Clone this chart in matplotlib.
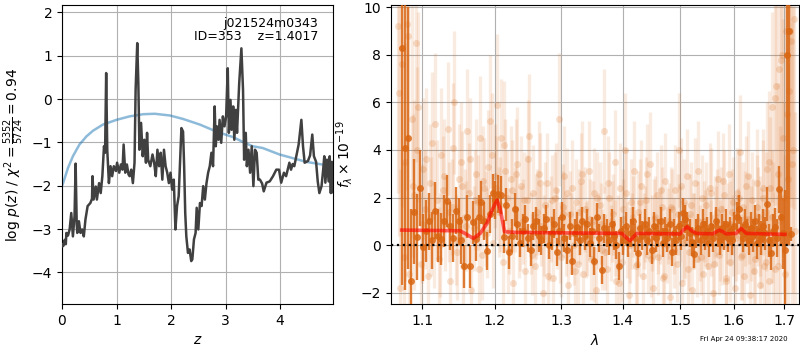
import numpy as np
import matplotlib
matplotlib.use("Agg")
import matplotlib.pyplot as plt
from matplotlib.ticker import FixedLocator, FormatStrFormatter, NullLocator

# ---------------- left panel: p(z) ----------------
z_grid = [0.00, 0.01, 0.03, 0.05, 0.07, 0.08, 0.11, 0.14, 0.17, 0.20, 0.23, 0.25, 0.27, 0.28, 0.31,
          0.34, 0.37, 0.40, 0.43, 0.47, 0.52, 0.55, 0.56, 0.58, 0.62, 0.64, 0.68, 0.71, 0.74, 0.77,
          0.79, 0.81, 0.83, 0.86, 0.89, 0.92, 0.95, 0.99, 1.01, 1.05, 1.08, 1.11, 1.13, 1.16, 1.19,
          1.22, 1.24, 1.27, 1.30, 1.33, 1.35, 1.38, 1.40, 1.42, 1.45, 1.48, 1.51, 1.54, 1.56, 1.58,
          1.62, 1.66, 1.69, 1.72, 1.75, 1.78, 1.81, 1.84, 1.87, 1.90, 1.93, 1.96, 1.99, 2.02, 2.05,
          2.08, 2.11, 2.14, 2.19, 2.22, 2.24, 2.26, 2.28, 2.31, 2.34, 2.37, 2.39, 2.42, 2.45, 2.47,
          2.50, 2.53, 2.56, 2.59, 2.62, 2.65, 2.68, 2.71, 2.74, 2.77, 2.80, 2.82, 2.84, 2.87, 2.89,
          2.92, 2.95, 2.98, 3.01, 3.04, 3.06, 3.09, 3.11, 3.14, 3.16, 3.19, 3.21, 3.25, 3.29, 3.32,
          3.34, 3.37, 3.39, 3.42, 3.45, 3.48, 3.51, 3.54, 3.57, 3.60, 3.63, 3.67, 3.70, 3.75, 3.81,
          3.87, 3.93, 3.98, 4.02, 4.07, 4.11, 4.17, 4.20, 4.23, 4.26, 4.30, 4.34, 4.39, 4.42, 4.45,
          4.51, 4.55, 4.59, 4.62, 4.66, 4.69, 4.72, 4.76, 4.79, 4.81, 4.83, 4.86, 4.89, 4.91, 4.93,
          4.95, 4.97]
logpz = [-3.35, -3.40, -3.38, -3.25, -3.35, -3.09, -3.15, -3.01, -2.63, -3.17, -2.70, -1.49, -2.90, -3.09, -2.82,
         -3.09, -3.01, -3.17, -2.78, -2.47, -2.40, -2.30, -1.78, -2.32, -2.02, -2.32, -1.94, -2.17, -1.78, -1.09,
         -1.24, 0.60, -1.17, -1.94, -1.55, -1.78, -1.55, -1.66, -1.47, -1.70, -1.51, -1.63, -1.05, -1.70, -1.51,
         -1.74, -1.78, -1.63, -1.94, -1.47, 0.21, 1.29, 0.37, -1.17, -0.55, -1.32, -0.94, -1.47, -0.78, -1.40,
         -1.55, -1.28, -1.47, -1.78, -1.17, -1.55, -1.24, -1.86, -1.17, -1.55, -1.70, -1.94, -1.70, -2.09, -1.86,
         -3.01, -2.47, -2.24, -0.67, -0.75, -1.55, -2.63, -3.17, -3.55, -3.47, -3.74, -3.70, -3.24, -3.09, -2.51,
         -3.01, -2.40, -2.47, -2.01, -2.32, -1.94, -1.70, -1.55, -1.24, -1.55, -0.17, -1.09, -0.63, -0.94, -0.48,
         -1.01, -0.40, -0.63, -0.40, 0.71, -0.78, -0.02, -0.71, -0.17, -0.94, -0.25, -0.78, 0.37, 1.17, 0.21,
         -1.40, -0.78, -1.55, -1.17, -1.70, -1.09, -2.01, -1.17, -1.24, -1.86, -1.86, -1.95, -2.13, -1.93, -1.90,
         -1.78, -1.63, -1.63, -1.93, -1.70, -1.78, -1.47, -1.63, -1.50, -1.55, -1.30, -1.05, -0.48, -1.09, -1.47,
         -1.43, -1.30, -0.82, -1.32, -1.45, -1.90, -2.17, -2.01, -1.63, -1.32, -1.93, -1.40, -1.90, -1.32, -2.17,
         -1.45, -2.15]

prior_z = [0.00, 0.02, 0.11, 0.20, 0.32, 0.45, 0.57, 0.75, 1.00, 1.24, 1.49, 1.70, 1.98, 2.22, 2.53, 2.83,
           3.14, 3.35, 3.50, 3.68, 3.99, 4.48, 4.91, 4.97]
prior_logp = [-2.00, -1.94, -1.59, -1.32, -1.05, -0.86, -0.73, -0.59, -0.48, -0.40, -0.35, -0.34, -0.38, -0.46,
              -0.59, -0.75, -0.88, -1.01, -1.09, -1.13, -1.28, -1.45, -1.54, -1.55]

title_text = "j021524m0343\nID=353    z=1.4017"
left_ylabel = r"log $p(z)$ / $\chi^2=\frac{5352}{5724}=0.94$"
left_xticks = [0, 1, 2, 3, 4]
left_yticks = [-4, -3, -2, -1, 0, 1, 2]

# ---------------- right panel: spectrum ----------------
faint_lam = [1.068, 1.071, 1.074, 1.077, 1.080, 1.083, 1.086, 1.089, 1.092, 1.095,
             1.098, 1.101, 1.104, 1.107, 1.110, 1.113, 1.116, 1.119, 1.122, 1.125,
             1.128, 1.131, 1.134, 1.137, 1.140, 1.143, 1.146, 1.149, 1.152, 1.155,
             1.158, 1.161, 1.164, 1.167, 1.170, 1.173, 1.176, 1.179, 1.182, 1.185,
             1.188, 1.191, 1.194, 1.197, 1.200, 1.203, 1.206, 1.209, 1.212, 1.215,
             1.218, 1.221, 1.224, 1.227, 1.230, 1.233, 1.236, 1.239, 1.242, 1.245,
             1.248, 1.251, 1.254, 1.257, 1.260, 1.263, 1.266, 1.269, 1.272, 1.275,
             1.278, 1.281, 1.284, 1.287, 1.290, 1.293, 1.296, 1.299, 1.302, 1.305,
             1.308, 1.311, 1.314, 1.317, 1.320, 1.323, 1.326, 1.329, 1.332, 1.335,
             1.338, 1.341, 1.344, 1.347, 1.350, 1.353, 1.356, 1.359, 1.362, 1.365,
             1.368, 1.371, 1.374, 1.377, 1.380, 1.383, 1.386, 1.389, 1.392, 1.395,
             1.398, 1.401, 1.404, 1.407, 1.410, 1.413, 1.416, 1.419, 1.422, 1.425,
             1.428, 1.431, 1.434, 1.437, 1.440, 1.443, 1.446, 1.449, 1.452, 1.455,
             1.458, 1.461, 1.464, 1.467, 1.470, 1.473, 1.476, 1.479, 1.482, 1.485,
             1.488, 1.491, 1.494, 1.497, 1.500, 1.503, 1.506, 1.509, 1.512, 1.515,
             1.518, 1.521, 1.524, 1.527, 1.530, 1.533, 1.536, 1.539, 1.542, 1.545,
             1.548, 1.551, 1.554, 1.557, 1.560, 1.563, 1.566, 1.569, 1.572, 1.575,
             1.578, 1.581, 1.584, 1.587, 1.590, 1.593, 1.596, 1.599, 1.602, 1.605,
             1.608, 1.611, 1.614, 1.617, 1.620, 1.623, 1.626, 1.629, 1.632, 1.635,
             1.638, 1.641, 1.644, 1.647, 1.650, 1.653, 1.656, 1.659, 1.662, 1.665,
             1.668, 1.671, 1.674, 1.677, 1.680, 1.683, 1.686, 1.689, 1.692, 1.695,
             1.698, 1.701, 1.704, 1.707, 1.710, 1.713, 1.716, 1.719, 1.722]
faint_flux = [9.2, -1.8, 7.6, 3.5, 9.3, -1.2, 5.3, 2.1, 8.5, 5.8,
              -0.8, 3.2, 1.5, -1.3, 2.6, 4.3, 0.4, 1.9, -0.6, 3.8,
              2.3, 0.9, 4.9, -1.5, 1.6, 6.0, 0.2, 2.8, 3.5, -0.9,
              1.2, 4.8, 2.2, -1.9, 0.7, 3.0, 1.8, 4.5, -0.4, 2.4,
              1.1, 3.3, 5.2, 0.1, 2.9, 5.9, 1.4, 4.5, -0.7, 3.1,
              2.0, 0.6, 2.8, -1.6, 1.5, 3.4, 0.3, 2.5, 1.0, -1.1,
              1.9, 4.6, 0.5, 2.2, -0.9, 1.4, 3.0, 0.8, -2.0, 1.7,
              2.6, 0.2, 1.1, -1.4, 2.0, 0.7, 5.3, -0.5, 1.6, 2.9,
              0.4, -1.7, 1.3, 2.4, 0.0, 1.8, -0.8, 0.9, 2.7, -1.2,
              1.5, 0.3, 3.1, -0.6, 1.0, 2.2, -1.9, 0.6, 1.7, -0.2,
              4.8, 0.8, -1.0, 2.0, 0.1, 1.3, 3.5, -1.5, 0.5, 2.4,
              -0.7, 1.1, 4.0, 0.2, -2.1, 1.8, 0.6, 3.1, -0.9, 1.4,
              0.3, 2.5, -1.3, 0.9, 1.9, -0.4, 3.4, 0.5, -1.8, 1.2,
              2.1, -0.5, 0.8, 1.6, -1.4, 2.7, 0.0, 1.0, -2.2, 1.5,
              0.4, 2.3, -0.8, 4.0, 0.9, -1.6, 1.8, 0.2, 2.9, -0.3,
              1.3, -1.9, 0.6, 2.6, -0.6, 1.0, 0.1, 2.0, -1.2, 0.7,
              1.7, -0.9, 2.4, 0.3, -2.0, 1.2, 0.8, 2.8, -0.4, 1.5,
              0.0, 2.1, -1.5, 0.9, 3.0, -0.7, 1.4, 0.4, -1.8, 2.2,
              0.6, 3.9, -0.5, 1.6, -1.3, 2.5, 0.2, 1.1, -2.1, 1.9,
              0.8, -0.6, 2.6, 1.2, -1.7, 0.3, 2.0, -0.9, 1.4, 3.2,
              -1.5, 2.4, 5.8, 0.5, -1.0, 6.7, 3.0, 7.4, 1.0, 8.0,
              4.5, -1.2, 9.0, 2.8, 6.5, 8.6, 3.4, 9.5, 0.6]
faint_err = [7, 5, 6, 5, 7, 4, 5, 4, 5, 4,
             3, 3, 2.5, 2.5, 2.5, 3, 2.2, 2.5, 2.2, 2.8,
             2.3, 2.0, 2.8, 2.2, 2.0, 3.0, 1.9, 2.3, 2.5, 2.0,
             2.0, 2.6, 2.1, 2.2, 1.8, 2.3, 2.0, 2.6, 1.9, 2.1,
             2.0, 2.4, 2.8, 1.9, 2.2, 3.0, 1.9, 2.5, 1.8, 2.2,
             2.0, 1.8, 2.2, 1.9, 1.8, 2.4, 1.7, 2.1, 1.8, 1.9,
             1.9, 2.6, 1.7, 2.0, 1.8, 1.8, 2.2, 1.7, 1.9, 1.8,
             2.1, 1.7, 1.8, 1.8, 1.9, 1.7, 2.8, 1.7, 1.8, 2.1,
             1.7, 1.8, 1.8, 2.0, 1.7, 1.8, 1.7, 1.7, 2.0, 1.7,
             1.8, 1.6, 2.1, 1.7, 1.7, 1.9, 1.8, 1.6, 1.8, 1.7,
             2.6, 1.7, 1.7, 1.9, 1.6, 1.7, 2.2, 1.7, 1.6, 1.9,
             1.7, 1.7, 2.4, 1.6, 1.8, 1.8, 1.6, 2.1, 1.7, 1.7,
             1.6, 1.9, 1.7, 1.6, 1.8, 1.6, 2.2, 1.6, 1.7, 1.7,
             1.8, 1.6, 1.6, 1.7, 1.7, 2.0, 1.6, 1.6, 1.8, 1.7,
             1.6, 1.9, 1.6, 2.4, 1.6, 1.7, 1.8, 1.6, 2.0, 1.6,
             1.7, 1.8, 1.6, 1.9, 1.6, 1.7, 1.6, 1.8, 1.7, 1.6,
             1.8, 1.7, 1.9, 1.6, 1.8, 1.7, 1.7, 2.0, 1.7, 1.8,
             1.7, 1.9, 1.8, 1.7, 2.1, 1.7, 1.8, 1.7, 1.9, 1.9,
             1.8, 2.4, 1.8, 1.9, 1.9, 2.1, 1.8, 1.9, 2.0, 2.0,
             2.0, 2.0, 2.3, 2.1, 2.2, 2.1, 2.4, 2.2, 2.5, 2.8,
             2.8, 3.0, 4.0, 3.0, 3.2, 4.5, 3.8, 5.0, 4.0, 6.0,
             5.0, 5.0, 7.0, 5.5, 6.5, 7.0, 6.0, 8.0, 5.0]

faint2_lam = [1.0695, 1.0755, 1.0815, 1.0875, 1.0935, 1.0995, 1.1055, 1.1115, 1.1175, 1.1235,
              1.1295, 1.1355, 1.1415, 1.1475, 1.1535, 1.1595, 1.1655, 1.1715, 1.1775, 1.1835,
              1.1895, 1.1955, 1.2015, 1.2075, 1.2135, 1.2195, 1.2255, 1.2315, 1.2375, 1.2435,
              1.2495, 1.2555, 1.2615, 1.2675, 1.2735, 1.2795, 1.2855, 1.2915, 1.2975, 1.3035,
              1.3095, 1.3155, 1.3215, 1.3275, 1.3335, 1.3395, 1.3455, 1.3515, 1.3575, 1.3635,
              1.3695, 1.3755, 1.3815, 1.3875, 1.3935, 1.3995, 1.4055, 1.4115, 1.4175, 1.4235,
              1.4295, 1.4355, 1.4415, 1.4475, 1.4535, 1.4595, 1.4655, 1.4715, 1.4775, 1.4835,
              1.4895, 1.4955, 1.5015, 1.5075, 1.5135, 1.5195, 1.5255, 1.5315, 1.5375, 1.5435,
              1.5495, 1.5555, 1.5615, 1.5675, 1.5735, 1.5795, 1.5855, 1.5915, 1.5975, 1.6035,
              1.6095, 1.6155, 1.6215, 1.6275, 1.6335, 1.6395, 1.6455, 1.6515, 1.6575, 1.6635,
              1.6695, 1.6755, 1.6815, 1.6875, 1.6935, 1.6995, 1.7055, 1.7115, 1.7175]
faint2_flux = [6.4, -0.5, 8.8, 2.5, 4.0, 0.9, 3.6, 1.2, 5.1, 0.0,
               2.9, 1.4, 4.1, -0.3, 2.5, 0.8, 3.6, 1.9, -1.0, 2.7,
               0.5, 3.8, 2.4, 1.7, 4.2, -0.2, 2.3, 3.0, 0.7, 1.9,
               3.6, -0.4, 1.2, 2.6, 0.4, -1.3, 1.9, 2.3, 0.1, 1.3,
               2.2, 0.5, -1.1, 1.4, 3.0, 0.2, 1.1, -0.7, 2.0, 0.9,
               -0.3, 2.6, 1.0, 0.3, -1.6, 1.5, 2.2, 0.0, 1.2, -0.8,
               1.8, 0.6, 3.0, -0.6, 1.1, 0.4, 2.3, -1.3, 0.8, 1.6,
               -0.2, 1.3, 2.5, 0.1, -1.0, 1.7, 0.6, 3.1, -0.5, 1.0,
               0.7, 2.2, -0.8, 1.4, 0.2, 2.7, -1.4, 0.9, 1.8, 0.3,
               2.0, -0.4, 1.1, 2.9, 0.5, -1.1, 1.6, 0.8, 2.4, -0.7,
               3.5, 1.2, 6.2, -0.9, 7.8, 2.0, 5.5, 9.0, 4.0]
faint2_err = [6, 4, 6, 3, 3.5, 2.5, 3, 2.5, 3, 2.2,
              2.4, 2.1, 2.7, 2.0, 2.3, 1.9, 2.6, 2.1, 2.0, 2.3,
              1.9, 2.6, 2.2, 2.0, 2.7, 1.8, 2.1, 2.3, 1.8, 2.0,
              2.5, 1.7, 1.8, 2.1, 1.7, 1.8, 1.9, 2.0, 1.7, 1.8,
              1.9, 1.7, 1.7, 1.8, 2.2, 1.6, 1.7, 1.7, 1.9, 1.7,
              1.6, 2.0, 1.7, 1.6, 1.8, 1.7, 1.9, 1.6, 1.7, 1.7,
              1.8, 1.6, 2.1, 1.6, 1.7, 1.6, 1.9, 1.7, 1.6, 1.7,
              1.6, 1.7, 2.0, 1.6, 1.7, 1.8, 1.6, 2.1, 1.6, 1.7,
              1.7, 1.9, 1.7, 1.8, 1.7, 2.0, 1.8, 1.8, 1.9, 1.8,
              2.0, 1.9, 2.0, 2.3, 2.0, 2.1, 2.2, 2.1, 2.5, 2.3,
              3.0, 2.8, 4.5, 3.0, 5.5, 4.0, 5.5, 7.0, 6.0]

bin_lam = [1.073, 1.077, 1.081, 1.085, 1.089, 1.093, 1.097, 1.101, 1.105, 1.109,
           1.113, 1.117, 1.121, 1.125, 1.129, 1.133, 1.137, 1.141, 1.145, 1.149,
           1.153, 1.157, 1.161, 1.165, 1.169, 1.173, 1.177, 1.181, 1.185, 1.189,
           1.193, 1.197, 1.201, 1.205, 1.209, 1.213, 1.217, 1.221, 1.225, 1.229,
           1.233, 1.237, 1.241, 1.245, 1.249, 1.253, 1.257, 1.261, 1.265, 1.269,
           1.273, 1.277, 1.281, 1.285, 1.289, 1.293, 1.297, 1.301, 1.305, 1.309,
           1.313, 1.317, 1.321, 1.325, 1.329, 1.333, 1.337, 1.341, 1.345, 1.349,
           1.353, 1.357, 1.361, 1.365, 1.369, 1.373, 1.377, 1.381, 1.385, 1.389,
           1.393, 1.397, 1.401, 1.405, 1.409, 1.413, 1.417, 1.421, 1.425, 1.429,
           1.433, 1.437, 1.441, 1.445, 1.449, 1.453, 1.457, 1.461, 1.465, 1.469,
           1.473, 1.477, 1.481, 1.485, 1.489, 1.493, 1.497, 1.501, 1.505, 1.509,
           1.513, 1.517, 1.521, 1.525, 1.529, 1.533, 1.537, 1.541, 1.545, 1.549,
           1.553, 1.557, 1.561, 1.565, 1.569, 1.573, 1.577, 1.581, 1.585, 1.589,
           1.593, 1.597, 1.601, 1.605, 1.609, 1.613, 1.617, 1.621, 1.625, 1.629,
           1.633, 1.637, 1.641, 1.645, 1.649, 1.653, 1.657, 1.661, 1.665, 1.669,
           1.673, 1.677, 1.681, 1.685, 1.689, 1.693, 1.697, 1.701, 1.705, 1.709,
           1.713]
bin_flux = [8.3, 4.1, 4.5, -1.5, 1.4, 0.35, 2.4, -0.1, 0.6, 1.0,
            0.2, 1.45, 0.4, 0.25, 1.0, 1.85, 0.8, 0.3, 1.45, 1.0,
            0.2, -0.9, 1.2, -0.9, 0.95, 0.25, 1.2, 1.8, 1.0, -0.25,
            1.3, 2.2, 1.9, 2.15, 2.1, 0.35, 1.7, -0.3, 0.4, 1.5,
            0.9, 0.1, 0.6, 1.1, 0.3, -0.2, 0.8, 1.0, 0.4, 0.2,
            0.7, 1.1, 0.0, 0.5, 0.9, -0.3, 0.6, 1.2, 0.3, -0.2,
            0.8, -0.65, 0.5, 0.77, 0.2, 1.0, 0.4, 0.9, 0.1, 0.6,
            -0.67, 1.16, 0.3, -1.05, 0.7, 0.5, 0.2, 0.9, 0.4, 0.0,
            -0.88, 0.6, 0.2, 0.8, 0.1, 0.5, 1.0, 0.3, -0.35, 0.7,
            0.4, 0.9, 0.2, 0.6, -0.2, 0.8, 0.3, 0.5, 1.0, 0.1,
            0.6, 0.3, 0.9, -0.3, 0.5, 0.2, 0.8, 0.4, 1.36, 1.1,
            0.77, 0.5, 0.14, -0.38, 0.49, 0.7, 0.2, 0.9, 0.4, 0.6,
            0.1, 0.8, 0.3, 1.0, 0.5, 0.2, 0.7, 0.4, 0.9, 0.3,
            0.6, 0.2, 0.8, 1.2, 1.5, 0.6, 0.3, 0.9, 0.5, 0.2,
            0.7, 0.4, 1.0, 0.1, 0.6, 0.3, 0.8, 0.5, 1.73, 0.2,
            -0.35, 0.6, 0.77, 0.3, 2.34, 1.16, 0.5, -0.2, 8.0, 9.0,
            0.45]
bin_err = [10, 6, 5.5, 3, 2.2, 1.8, 1.6, 1.4, 1.3, 1.2,
           1.2, 1.2, 1.1, 1.1, 1.1, 1.1, 1.0, 1.0, 1.0, 1.0,
           1.0, 0.9, 0.9, 0.9, 0.9, 0.9, 0.9, 0.9, 0.8, 0.8,
           0.8, 0.8, 0.8, 0.8, 0.8, 0.7, 0.7, 0.7, 0.7, 0.7,
           0.7, 0.6, 0.7, 0.6, 0.6, 0.7, 0.6, 0.6, 0.7, 0.6,
           0.6, 0.6, 0.6, 0.7, 0.6, 0.6, 0.6, 0.6, 0.6, 0.6,
           0.6, 0.6, 0.6, 0.6, 0.6, 0.6, 0.6, 0.6, 0.6, 0.6,
           0.6, 0.6, 0.6, 0.6, 0.6, 0.6, 0.6, 0.6, 0.6, 0.6,
           0.6, 0.6, 0.6, 0.6, 0.6, 0.6, 0.6, 0.6, 0.6, 0.6,
           0.6, 0.6, 0.6, 0.6, 0.6, 0.6, 0.6, 0.6, 0.6, 0.6,
           0.6, 0.6, 0.6, 0.6, 0.6, 0.6, 0.6, 0.6, 0.6, 0.6,
           0.6, 0.6, 0.6, 0.6, 0.6, 0.6, 0.6, 0.6, 0.6, 0.6,
           0.6, 0.6, 0.6, 0.6, 0.6, 0.6, 0.6, 0.6, 0.6, 0.6,
           0.6, 0.6, 0.6, 0.6, 0.6, 0.6, 0.6, 0.6, 0.6, 0.6,
           0.7, 0.7, 0.7, 0.7, 0.7, 0.7, 0.7, 0.7, 0.7, 0.7,
           0.7, 0.7, 0.8, 0.8, 1.0, 1.2, 1.5, 2.5, 8.0, 9.0,
           0.3]

model_lam = [1.0731, 1.1510, 1.1579, 1.1696, 1.1793, 1.1889, 1.1962, 1.2035, 1.2084, 1.2143, 1.2333,
             1.3982, 1.4054, 1.4121, 1.4235, 1.4994, 1.5052, 1.5125, 1.5203, 1.5293, 1.5598, 1.5723,
             1.5786, 1.5850, 1.6042, 1.6139, 1.6237, 1.7011]
model_flux = [0.63, 0.60, 0.49, 0.28, 0.49, 0.91, 1.47, 1.89, 1.47, 0.56, 0.53,
              0.49, 0.32, 0.18, 0.49, 0.47, 0.63, 0.77, 0.60, 0.49, 0.47, 0.63,
              0.56, 0.47, 0.49, 0.70, 0.49, 0.45]

right_xticks = [1.1, 1.2, 1.3, 1.4, 1.5, 1.6, 1.7]
right_yticks = [-2, 0, 2, 4, 6, 8, 10]
timestamp = "Fri Apr 24 09:38:17 2020"

# ---------------- figure ----------------
fig = plt.figure(figsize=(8, 3.5), dpi=100)
W, H = 800, 350
axl = fig.add_axes([62 / W, 1 - 304 / H, (333 - 62) / W, (304 - 5) / H])
axr = fig.add_axes([391 / W, 1 - 304 / H, (799 - 391) / W, (304 - 5) / H])

axl.plot(prior_z, prior_logp, color='tab:blue', alpha=0.5, lw=1.8, zorder=2)
axl.plot(z_grid, logpz, color='0.25', lw=1.8, zorder=3)
axl.set_xlim(0, 4.97)
axl.set_ylim(-4.73, 2.17)
axl.set_xticks(left_xticks)
axl.set_yticks(left_yticks)
axl.grid(True)
axl.set_axisbelow(True)
axl.set_xlabel('$z$')
axl.set_ylabel(left_ylabel)
axl.text(0.945, 0.96, title_text, transform=axl.transAxes, ha='right', va='top',
         fontsize=9, linespacing=1.05)

orange = (0.85, 0.40, 0.07)
for lam, flx, err in ((faint_lam, faint_flux, faint_err), (faint2_lam, faint2_flux, faint2_err)):
    axr.errorbar(lam, flx, yerr=err, fmt='none', ecolor=orange, alpha=0.13,
                 elinewidth=2.4, zorder=2)
    axr.plot(lam, flx, 'o', color=orange, ms=5, alpha=0.2, mec='none', zorder=2)
axr.errorbar(bin_lam, bin_flux, yerr=bin_err, fmt='o', color=orange, ms=5,
             alpha=0.85, elinewidth=1.7, mec='none', zorder=3)
axr.plot(model_lam, model_flux, color='red', alpha=0.6, lw=2.6, zorder=4)
axr.axhline(0, color='k', ls=':', lw=1.6, zorder=5)

axr.set_xscale('log')
axr.set_xlim(1.0594, 1.7301)
axr.xaxis.set_major_locator(FixedLocator(right_xticks))
axr.xaxis.set_major_formatter(FormatStrFormatter('%.1f'))
axr.xaxis.set_minor_locator(NullLocator())
axr.set_ylim(-2.48, 10.1)
axr.set_yticks(right_yticks)
axr.grid(True)
axr.set_axisbelow(True)
axr.set_xlabel(r'$\lambda$')
axr.set_ylabel(r'$f_\lambda\times10^{-19}$')

fig.text(788 / W, 1 - 339 / H, timestamp, ha='right', va='center', fontsize=5)

fig.savefig('out.png', dpi=100)
